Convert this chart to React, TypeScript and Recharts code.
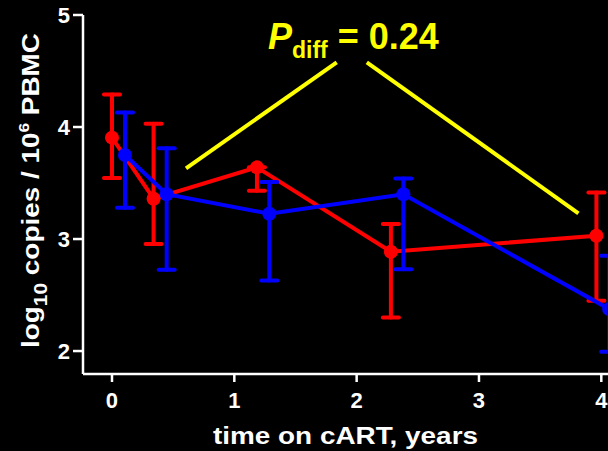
import React from 'react';
import { LineChart, Line, XAxis, YAxis, ErrorBar, ReferenceLine } from 'recharts';

// group 1 (red)
const redYears = [0.0, 0.34, 1.185, 2.28, 3.96];
const redLog = [3.905, 3.36, 3.64, 2.887, 3.029];
const redErr: [number, number][] = [
  [0.36, 0.385],
  [0.405, 0.67],
  [0.21, 0],
  [0.587, 0.247],
  [0.58, 0.387],
];

// group 2 (blue)
const blueYears = [0.106, 0.447, 1.286, 2.382, 4.064];
const blueLog = [3.75, 3.4, 3.226, 3.4, 2.375];
const blueErr: [number, number][] = [
  [0.47, 0.38],
  [0.674, 0.41],
  [0.596, 0.284],
  [0.67, 0.14],
  [0.381, 0.476],
];

const xTicks = [0, 1, 2, 3, 4];
const yTicks = [2, 3, 4, 5];

// yellow "P diff" bracket arms, in data units
const armLeft = [{ x: 0.605, y: 3.631 }, { x: 1.837, y: 4.578 }];
const armRight = [{ x: 2.083, y: 4.578 }, { x: 3.813, y: 3.229 }];

const redData = redYears.map((t, i) => ({ t, v: redLog[i], e: redErr[i] }));
const blueData = blueYears.map((t, i) => ({ t, v: blueLog[i], e: blueErr[i] }));

const FONT = '"Liberation Sans", Arial, Helvetica, sans-serif';
const RED = '#ff0000';
const BLUE = '#0000ff';
const YELLOW = '#ffff00';

const tickStyle = { fill: '#fff', fontSize: 22, fontWeight: 700, fontFamily: FONT };

const App: React.FC = () => {
  return (
    <div
      style={{
        position: 'fixed',
        left: 0,
        top: 0,
        width: 608,
        height: 451,
        overflow: 'hidden',
        background: '#000',
      }}
    >
      <LineChart width={660} height={451} margin={{ top: 15, right: 22, bottom: 0, left: 0 }}>
        <XAxis
          type="number"
          dataKey="t"
          domain={[-0.237, 4.3]}
          ticks={xTicks}
          allowDataOverflow
          height={77}
          stroke="#fff"
          strokeWidth={2.5}
          tickSize={8}
          tickMargin={10}
          tick={tickStyle}
          tickLine={{ stroke: '#fff', strokeWidth: 2.5 }}
        />
        <YAxis
          type="number"
          dataKey="v"
          domain={[1.795, 5]}
          ticks={yTicks}
          allowDataOverflow
          width={83}
          stroke="#fff"
          strokeWidth={2.5}
          tickSize={10}
          tickMargin={3}
          tick={tickStyle}
          tickLine={{ stroke: '#fff', strokeWidth: 2.5 }}
        />

        <ReferenceLine segment={armLeft} stroke={YELLOW} strokeWidth={4} />
        <ReferenceLine segment={armRight} stroke={YELLOW} strokeWidth={4} />

        <Line
          data={redData}
          dataKey="v"
          stroke={RED}
          strokeWidth={4}
          dot={{ r: 7, fill: RED, stroke: RED, strokeWidth: 0 }}
          activeDot={false}
          isAnimationActive={false}
        >
          <ErrorBar dataKey="e" direction="y" width={8} stroke={RED} strokeWidth={4} strokeLinecap="round" isAnimationActive={false} />
        </Line>
        <Line
          data={blueData}
          dataKey="v"
          stroke={BLUE}
          strokeWidth={4}
          dot={{ r: 7, fill: BLUE, stroke: BLUE, strokeWidth: 0 }}
          activeDot={false}
          isAnimationActive={false}
        >
          <ErrorBar dataKey="e" direction="y" width={8} stroke={BLUE} strokeWidth={4} strokeLinecap="round" isAnimationActive={false} />
        </Line>

        {/* p-value annotation */}
        <text x={268} y={49} fill={YELLOW} fontFamily={FONT} fontWeight={700} fontSize={36}>
          <tspan fontStyle="italic">P</tspan>
          <tspan fontSize={23} dy={9}>diff</tspan>
          <tspan dy={-9}> = 0.24</tspan>
        </text>

        {/* axis titles */}
        <text
          x={345.5}
          y={444}
          fill="#fff"
          fontFamily={FONT}
          fontWeight={700}
          fontSize={24}
          textAnchor="middle"
          textLength={265}
          lengthAdjust="spacingAndGlyphs"
        >
          time on cART, years
        </text>
        <text
          transform="translate(39,190.5) rotate(-90)"
          x={0}
          y={0}
          fill="#fff"
          fontFamily={FONT}
          fontWeight={700}
          fontSize={24}
          textAnchor="middle"
          textLength={315}
          lengthAdjust="spacingAndGlyphs"
        >
          log<tspan fontSize={18} dy={8}>10</tspan>
          <tspan dy={-8}> copies / 10</tspan>
          <tspan fontSize={15} dy={-10}>6</tspan>
          <tspan dy={10}> PBMC</tspan>
        </text>
      </LineChart>
    </div>
  );
};

export default App;
